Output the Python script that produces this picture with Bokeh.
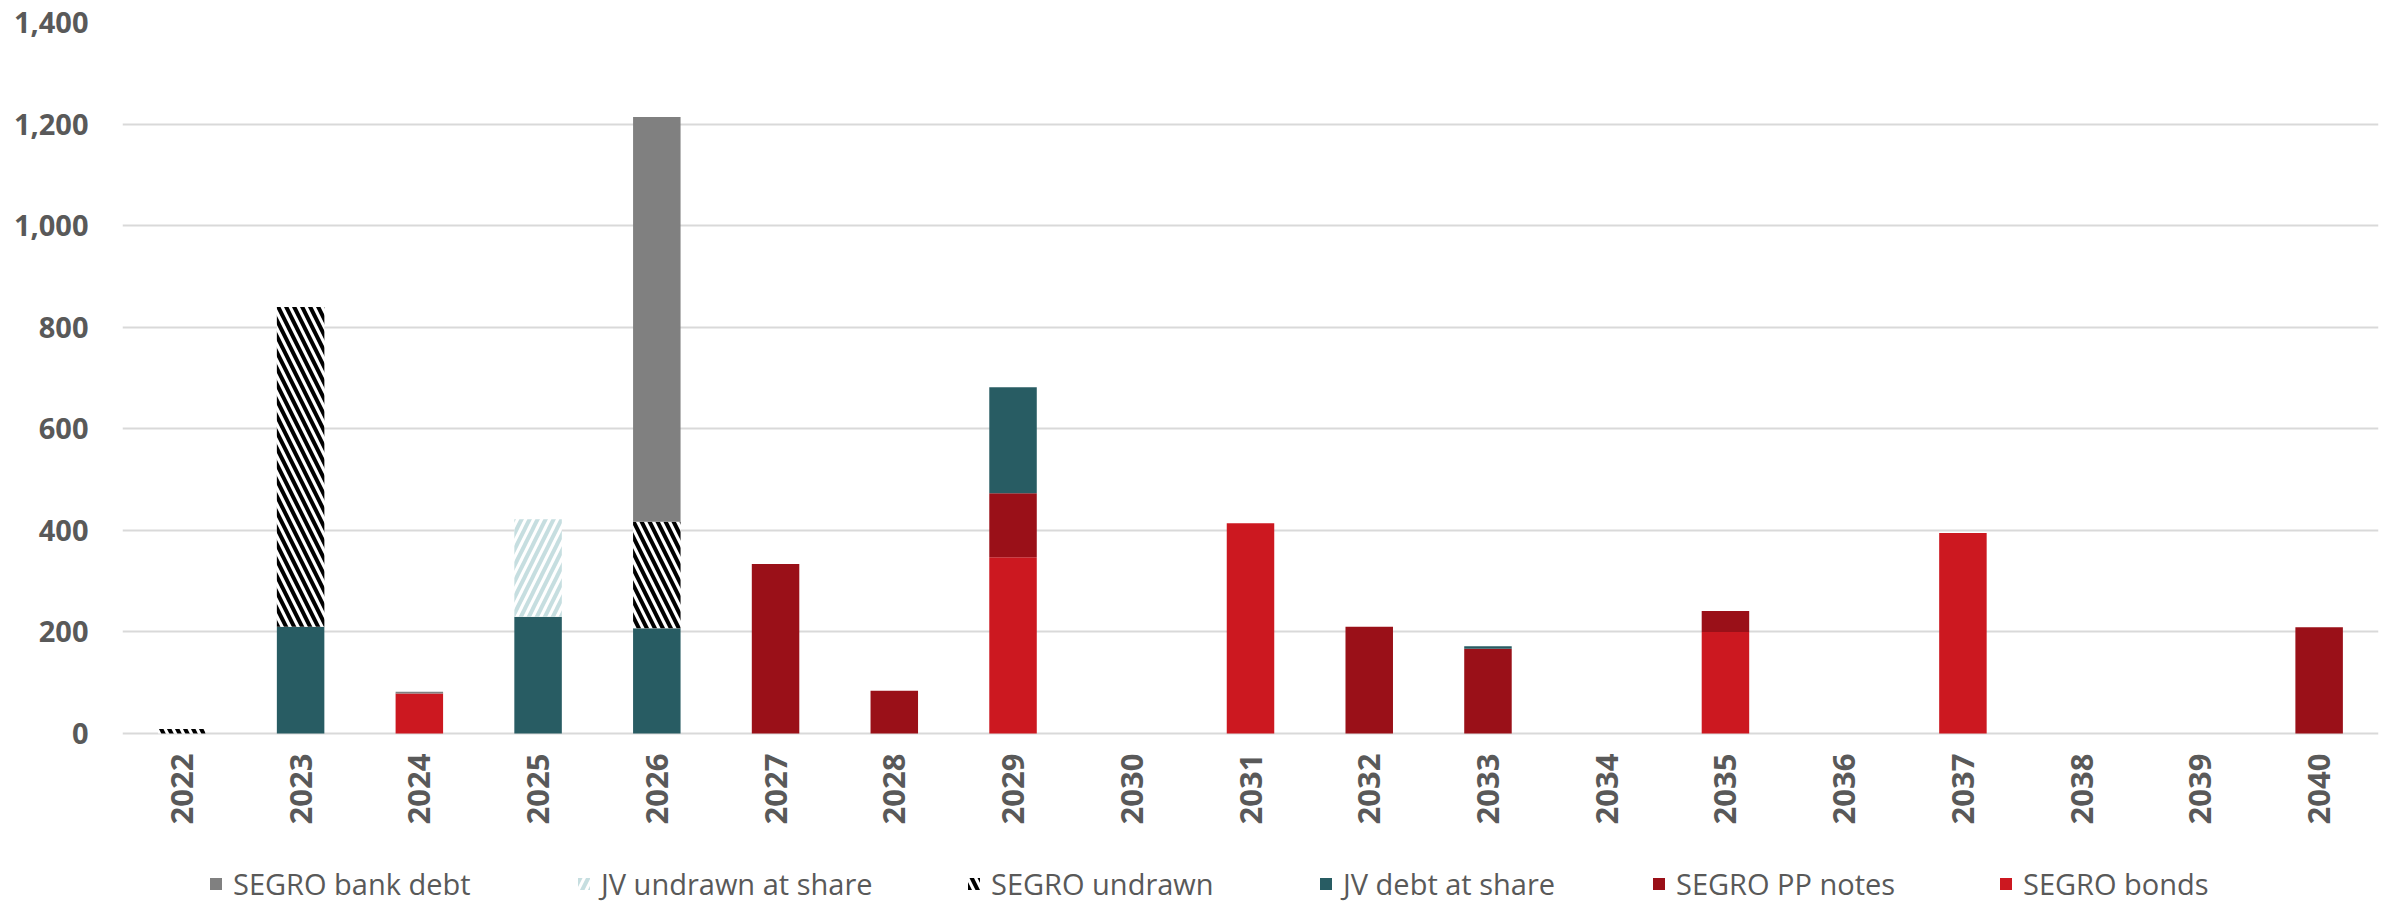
from bokeh.plotting import figure
from bokeh.models import ColumnDataSource, Range1d, NumeralTickFormatter, FixedTicker, Legend, LegendItem
from bokeh.core.properties import value
from bokeh.embed import file_html
from bokeh.resources import INLINE
import math

years = [str(y) for y in range(2022, 2041)]
segro_bonds = [0, 0, 79, 0, 0, 0, 0, 347, 0, 414, 0, 0, 0, 200, 0, 395, 0, 0, 0]
segro_pp_notes = [0, 0, 0, 0, 0, 334, 84, 126, 0, 0, 210, 167, 0, 41, 0, 0, 0, 0, 209]
jv_debt = [0, 210, 0, 230, 207, 0, 0, 209, 0, 0, 0, 5, 0, 0, 0, 0, 0, 0, 0]
jv_undrawn = [0, 0, 0, 192, 0, 0, 0, 0, 0, 0, 0, 0, 0, 0, 0, 0, 0, 0, 0]
segro_undrawn = [9, 630, 0, 0, 210, 0, 0, 0, 0, 0, 0, 0, 0, 0, 0, 0, 0, 0, 0]
segro_bank_debt = [0, 0, 3, 0, 797, 0, 0, 0, 0, 0, 0, 0, 0, 0, 0, 0, 0, 0, 0]

series_keys = ["bonds", "pp", "jvd", "jvu", "su", "bank"]
series_names = ["SEGRO bonds", "SEGRO PP notes", "JV debt at share",
                "JV undrawn at share", "SEGRO undrawn", "SEGRO bank debt"]

source = ColumnDataSource(dict(year=years, bonds=segro_bonds, pp=segro_pp_notes,
                               jvd=jv_debt, jvu=jv_undrawn, su=segro_undrawn,
                               bank=segro_bank_debt))

W, H = 2395, 903
TOP, ZERO_Y = 22, 733              # pixel rows of the 1,400 and 0 gridlines
Y_MAX = 1400
y_min = -Y_MAX * (H - ZERO_Y) / (ZERO_Y - TOP)   # frame reaches the page bottom

p = figure(width=W, height=H, x_range=years, y_range=Range1d(y_min, Y_MAX),
           output_backend="svg", toolbar_location=None, x_axis_location=None,
           min_border_left=122, min_border_right=17, min_border_top=TOP,
           min_border_bottom=0)
p.outline_line_color = None
p.background_fill_color = "white"
p.border_fill_color = "white"

renderers = p.vbar_stack(
    series_keys, x="year", width=0.40, source=source,
    fill_color=["#CC1820", "#9A1018", "#285C63", "white", "white", "#808080"],
    line_color=None,
    hatch_pattern=[None, None, None, "/", "\\", None],
    hatch_color=["black", "black", "black", "#C6DEE0", "black", "black"],
    hatch_weight=[1, 1, 1, 4, 4, 1],
    hatch_scale=[12, 12, 12, 16, 16, 12],
)

# category labels under the zero line, read bottom-to-top
p.text(x="year", y=0, text="year", source=source, angle=math.pi / 2,
       text_align="right", text_baseline="middle", y_offset=20,
       text_font=value("Open Sans"), text_font_style="bold",
       text_font_size="31px", text_color="#595959")

p.yaxis.ticker = FixedTicker(ticks=list(range(0, 1401, 200)))
p.yaxis.formatter = NumeralTickFormatter(format="0,0")
p.yaxis.axis_line_color = None
p.yaxis.major_tick_line_color = None
p.yaxis.minor_tick_line_color = None
p.yaxis.major_label_text_font = "Open Sans"
p.yaxis.major_label_text_font_style = "bold"
p.yaxis.major_label_text_font_size = "29px"
p.yaxis.major_label_text_color = "#595959"
p.yaxis.major_label_standoff = 28

p.xgrid.grid_line_color = None
p.ygrid.grid_line_color = "#D9D9D9"
p.ygrid.grid_line_width = 2

# legend in Excel order (reverse of the stack), one box per entry
legend_order = [5, 3, 4, 2, 1, 0]
legend_x = [86, 454, 844, 1196, 1529, 1876]
for idx, lx in zip(legend_order, legend_x):
    lg = Legend(items=[LegendItem(label=series_names[idx], renderers=[renderers[idx]])],
                location=(lx, 0), orientation="horizontal",
                glyph_width=15, glyph_height=15, label_standoff=10,
                padding=0, margin=0, spacing=0,
                border_line_color=None, background_fill_alpha=0,
                label_text_font="Open Sans", label_text_font_size="29px",
                label_text_color="#595959")
    p.add_layout(lg, "center")

open("out.html", "w").write(file_html(p, INLINE))
